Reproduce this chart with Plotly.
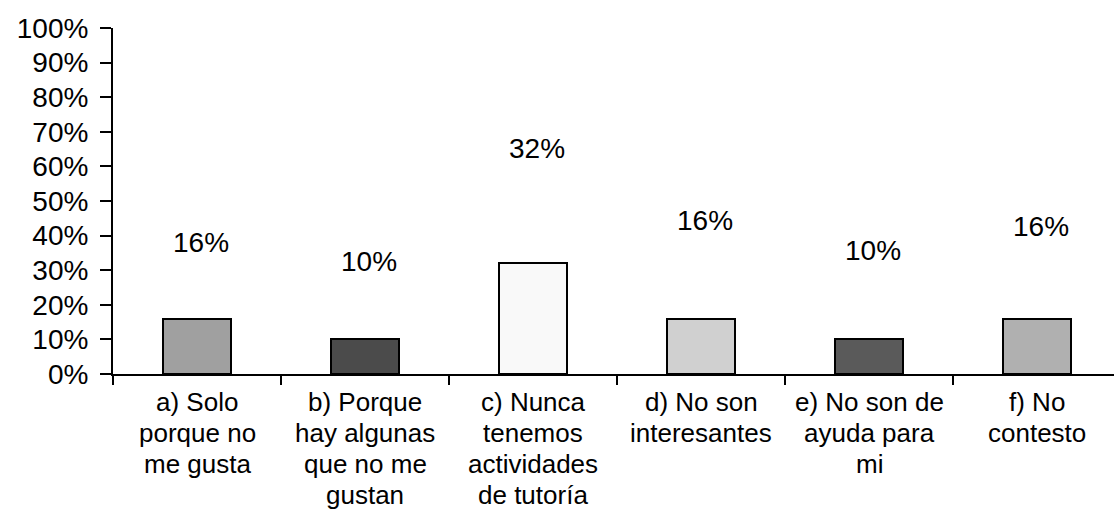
import plotly.graph_objects as go

# Survey answers and their shares (percent)
categories = [
    "a) Solo\nporque no\nme gusta",
    "b) Porque\nhay algunas\nque no me\ngustan",
    "c) Nunca\ntenemos\nactividades\nde tutoría",
    "d) No son\ninteresantes",
    "e) No son de\nayuda para\nmi",
    "f) No\ncontesto",
]
values = [16, 10, 32, 16, 10, 16]

# Bar fills and the heights at which the percentage labels sit
fills = ["#a0a0a0", "#4b4b4b", "#f9f9f9", "#d0d0d0", "#5a5a5a", "#b0b0b0"]
label_heights = [38, 32.4, 65.3, 44.5, 35.8, 42.5]

FAMILY = "Liberation Sans, Arial, sans-serif"
TEXT_FONT = dict(family=FAMILY, size=26, color="black")
PCT_FONT = dict(family=FAMILY, size=28, color="black")
LINE_STEP = 31  # px between category label lines

idx = list(range(len(categories)))

fig = go.Figure(
    go.Bar(
        x=idx,
        y=values,
        width=0.405,
        marker=dict(color=fills, line=dict(color="black", width=2)),
        hoverinfo="skip",
    )
)

# value labels above the bars
for i, v, h in zip(idx, values, label_heights):
    fig.add_annotation(
        x=i, y=h, text=f"{v}%", showarrow=False, font=PCT_FONT,
        xanchor="center", yanchor="middle", xshift=4,
    )

# category labels, one annotation per line for tight line spacing
for i, cat in zip(idx, categories):
    for k, line in enumerate(cat.split("\n")):
        fig.add_annotation(
            x=i, xref="x", y=0, yref="paper", text=line, showarrow=False,
            font=TEXT_FONT, xanchor="center", yanchor="middle",
            yshift=-28 - k * LINE_STEP,
        )

fig.update_layout(
    width=1114,
    height=515,
    margin=dict(l=113, r=0, t=28, b=141),
    plot_bgcolor="white",
    paper_bgcolor="white",
    showlegend=False,
    font=TEXT_FONT,
    bargap=0,
)

fig.update_xaxes(
    type="linear",
    range=[-0.5, -0.5 + 1001 / 168],
    tickvals=[i - 0.5 for i in idx] + [5.5],
    showticklabels=False,
    ticks="outside",
    ticklen=9,
    tickwidth=2,
    tickcolor="black",
    showline=True,
    linecolor="black",
    linewidth=2,
    showgrid=False,
    zeroline=False,
)

fig.update_yaxes(
    range=[0, 100],
    tickvals=list(range(0, 101, 10)),
    ticktext=[f"{t}%" for t in range(0, 101, 10)],
    ticks="outside",
    ticklen=11,
    tickwidth=2,
    tickcolor="black",
    ticklabelstandoff=6,
    showline=True,
    linecolor="black",
    linewidth=2,
    showgrid=False,
    zeroline=False,
    tickfont=PCT_FONT,
)

fig.write_html("out.html")
